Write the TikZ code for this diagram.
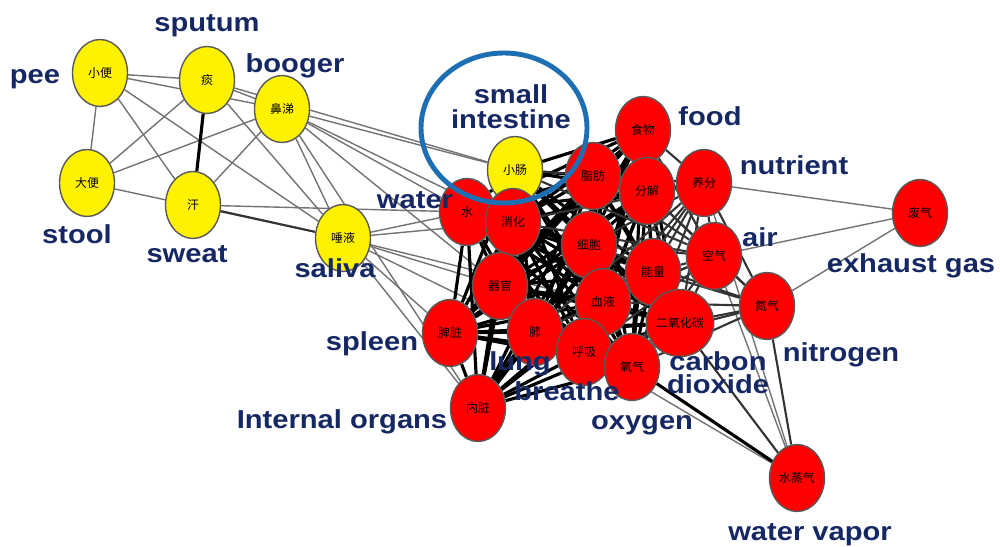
\documentclass[tikz,border=0pt]{standalone}
\usepackage{fontspec}
\setmainfont{Liberation Sans}[FakeStretch=1.12]
\newfontfamily\cjk{Noto Sans CJK SC}
\usetikzlibrary{shapes.geometric, backgrounds}
\definecolor{labelblue}{RGB}{22,40,100}
\definecolor{ringblue}{RGB}{30,110,180}

\begin{document}
\begin{tikzpicture}[x=0.1cm, y=-0.1cm,
		term/.style={ellipse, draw=black!65, line width=0.4pt, inner sep=0pt, minimum width=0.55cm, minimum height=0.67cm, font=\cjk\fontsize{3.4}{4}\selectfont},
		yel/.style={term, fill=yellow},
		rd/.style={term, fill=red},
		half/.style={text=labelblue, font=\fontsize{7.4}{8}\selectfont\bfseries, inner sep=0pt},
		tag/.style={half, text height=7.5pt, text depth=1.7pt},
		weak/.style={draw=black!55, line width=0.4pt},
		mid/.style={draw=black!80, line width=0.6pt},
		strong/.style={draw=black, line width=0.9pt}]
			\useasboundingbox (0,0) rectangle (100,54.7);
			
			\node(pee) [yel] at (10.0,7.3){小便};
			\node(sputum) [yel] at (20.7,8.0){痰};
			\node(booger) [yel] at (28.2,10.9){鼻涕};
			\node(stool) [yel] at (8.7,18.3){大便};
			\node(sweat) [yel] at (19.3,20.5){汗};
			\node(saliva) [yel] at (34.3,23.8){唾液};
			\node(intestine) [yel] at (51.5,17.0){小肠};
			
			\node(water) [rd] at (46.7,21.2){水};
			\node(digest) [rd] at (51.3,22.2){消化};
			\node(fat) [rd] at (59.3,17.6){脂肪};
			\node(food) [rd] at (64.3,13.0){食物};
			\node(decomp) [rd] at (64.7,19.1){分解};
			\node(nutrient) [rd] at (70.4,18.3){养分};
			\node(cell) [rd] at (58.9,24.5){细胞};
			\node(air) [rd] at (71.4,25.6){空气};
			\node(energy) [rd] at (65.3,27.2){能量};
			\node(organ) [rd] at (50.0,28.6){器官};
			\node(blood) [rd] at (60.3,30.2){血液};
			\node(lung) [rd] at (53.5,33.2){肺};
			\node(spleen) [rd] at (45.0,33.3){脾脏};
			\node(breathe) [rd] at (58.4,35.2){呼吸};
			\node(cotwo) [rd] at (68.0,32.3){二氧化碳};
			\node(oxygen) [rd] at (63.2,36.7){氧气};
			\node(nitrogen) [rd] at (76.7,30.6){氮气};
			\node(exhaust) [rd] at (92.0,21.3){废气};
			\node(vapor) [rd] at (79.7,47.8){水蒸气};
			\node(viscera) [rd] at (47.8,40.8){内脏};
			
			\begin{scope}[on background layer]
				\foreach \a/\b in {pee/sputum, pee/booger, pee/stool, pee/sweat, pee/saliva, sputum/stool, sputum/booger, sputum/saliva, sputum/intestine, booger/stool, booger/sweat, booger/saliva, booger/intestine, booger/water, booger/digest, booger/organ, stool/saliva, sweat/water, saliva/water, saliva/digest, saliva/organ, saliva/spleen, saliva/lung, saliva/viscera, saliva/blood, booger/viscera, nutrient/exhaust, air/exhaust, nitrogen/exhaust, breathe/vapor, air/vapor, nutrient/vapor}
					\draw[weak] (\a)--(\b);
				\draw[mid] (sweat)--(saliva);
				\draw[strong] (sputum)--(sweat);
				\foreach \a [count=\i] in {intestine, water, digest, fat, food, decomp, cell, energy, organ, blood, lung, breathe, cotwo, oxygen, spleen, viscera}
					\foreach \b [count=\j] in {intestine, water, digest, fat, food, decomp, cell, energy, organ, blood, lung, breathe, cotwo, oxygen, spleen, viscera}
						{\ifnum\j>\i \draw[strong] (\a)--(\b); \fi}
				\foreach \a in {nutrient, air}
					\foreach \b in {intestine, fat, food, decomp, cell, energy, blood, lung, breathe, cotwo, oxygen, digest}
						\draw[mid] (\a)--(\b);
				\draw[mid] (nutrient)--(air);
				\foreach \b in {air, cotwo, energy, blood, oxygen, decomp, nutrient, cell, breathe}
					\draw[mid] (nitrogen)--(\b);
				\draw[strong] (oxygen)--(vapor);
				\draw[mid] (cotwo)--(vapor) (nitrogen)--(vapor);
			\end{scope}
			
			\node(ring) [ellipse, draw=ringblue, line width=1.4pt, minimum width=1.66cm, minimum height=1.5cm] at (50.4,12.8){};
			
			\node(tsputum) [tag] at (20.7,2.1){sputum};
			\node(tpee) [tag] at (3.5,7.3){pee};
			\node(tbooger) [tag] at (29.5,6.2){booger};
			\node(tstool) [tag] at (7.7,23.3){stool};
			\node(tsweat) [tag] at (18.7,25.2){sweat};
			\node(tsaliva) [tag] at (33.5,26.7){saliva};
			\node(tsmall) [half] at (51.1,9.4){small};
			\node(tintestine) [half] at (51.1,11.9){intestine};
			\node(twater) [tag] at (41.5,19.8){water};
			\node(tfood) [tag] at (71.0,11.5){food};
			\node(tnutrient) [tag] at (79.4,16.4){nutrient};
			\node(tair) [tag] at (76.0,23.6){air};
			\node(texhaust) [tag] at (91.1,26.2){exhaust gas};
			\node(tspleen) [tag] at (37.2,34.0){spleen};
			\node(tlung) [tag] at (52.0,36.0){lung};
			\node(tbreathe) [tag] at (56.7,39.0){breathe};
			\node(tcarbon) [half] at (71.8,36.1){carbon};
			\node(tdioxide) [half] at (71.8,38.4){dioxide};
			\node(tnitrogen) [tag] at (84.1,35.1){nitrogen};
			\node(tviscera) [tag] at (34.2,41.8){Internal organs};
			\node(toxygen) [tag] at (64.2,41.9){oxygen};
			\node(tvapor) [tag] at (81.0,53.0){water vapor};
			
		\end{tikzpicture}
\end{document}
